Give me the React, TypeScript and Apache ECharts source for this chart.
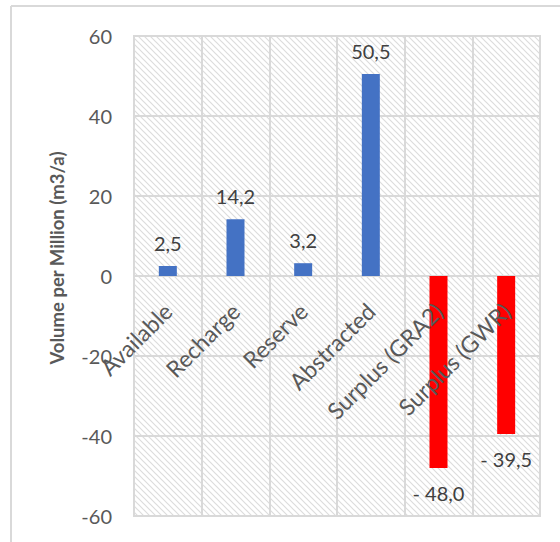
import React, { useEffect, useRef } from "react";
import * as echarts from "echarts";

const categories = [
  "Available",
  "Recharge",
  "Reserve",
  "Abstracted",
  "Surplus (GRA2)",
  "Surplus (GWR)",
];
const volumes = [2.5, 14.2, 3.2, 50.5, -48.0, -39.5];
const yTicks = { min: -60, max: 60, interval: 20 };
const yAxisTitle = "Volume per Million (m3/a)";

const BLUE = "#4472C4";
const RED = "#FF0000";
const GRID = "#d9d9d9";
const TEXT = "#595959";
const FONT = "Lato, 'Open Sans', sans-serif";

// Plot area geometry (pixels)
const PLOT_LEFT = 134;
const PLOT_TOP = 36;
const PLOT_RIGHT = 540;
const PLOT_BOTTOM = 516;
const CHART_W = 560;
const CHART_H = 542;

// Diagonal hatch tile used as the plot-area background
const hatchSvg =
  "<svg xmlns='http://www.w3.org/2000/svg' width='6' height='6'>" +
  "<path d='M-1,-1 L7,7 M-1,5 L1,7 M5,-1 L7,1' stroke='#dcdcdc' stroke-width='1.2' fill='none'/>" +
  "</svg>";
const hatchUrl = "data:image/svg+xml;charset=utf-8," + encodeURIComponent(hatchSvg);

function formatValue(v: number): string {
  const s = Math.abs(v).toFixed(1).replace(".", ",");
  return v < 0 ? "- " + s : s;
}

export default function App() {
  const ref = useRef<HTMLDivElement>(null);

  useEffect(() => {
    if (!ref.current) return;
    const chart = echarts.init(ref.current, undefined, { renderer: "svg" });

    // Category labels sit on the zero line, which lies this far above the plot bottom
    const plotH = PLOT_BOTTOM - PLOT_TOP;
    const zeroFromBottom = (plotH * (0 - yTicks.min)) / (yTicks.max - yTicks.min);

    chart.setOption({
      animation: false,
      backgroundColor: "#ffffff",
      grid: {
        left: PLOT_LEFT,
        right: CHART_W - PLOT_RIGHT,
        top: PLOT_TOP,
        bottom: CHART_H - PLOT_BOTTOM,
        outerBoundsMode: "none",
        containLabel: false,
        show: true,
        borderColor: GRID,
        borderWidth: 2,
        backgroundColor: {
          image: hatchUrl,
          repeat: "repeat",
          imageWidth: 6,
          imageHeight: 6,
        },
      },
      xAxis: {
        type: "category",
        data: categories,
        position: "bottom",
        offset: -zeroFromBottom,
        z: 3,
        axisLine: { show: false, onZero: false },
        axisTick: { show: false },
        splitLine: { show: true, lineStyle: { color: GRID, width: 2 } },
        axisLabel: {
          rotate: 45,
          interval: 0,
          margin: 31,
          fontSize: 23,
          color: TEXT,
          fontFamily: FONT,
        },
      },
      yAxis: {
        type: "value",
        min: yTicks.min,
        max: yTicks.max,
        interval: yTicks.interval,
        axisLine: { show: false },
        axisTick: { show: false },
        splitLine: { show: true, lineStyle: { color: GRID, width: 2 } },
        axisLabel: {
          margin: 22,
          fontSize: 20,
          color: TEXT,
          fontFamily: FONT,
        },
      },
      graphic: [
        {
          type: "line",
          shape: { x1: 11, y1: 6, x2: CHART_W, y2: 6 },
          style: { stroke: GRID, lineWidth: 2 },
          silent: true,
        },
        {
          type: "line",
          shape: { x1: 11, y1: 6, x2: 11, y2: CHART_H },
          style: { stroke: GRID, lineWidth: 2 },
          silent: true,
        },
        {
          type: "text",
          x: 57,
          y: 258,
          rotation: Math.PI / 2,
          style: {
            text: yAxisTitle,
            fill: TEXT,
            font: "bold 18.5px " + FONT,
            align: "center",
            verticalAlign: "middle",
          },
          silent: true,
        },
      ],
      series: [
        {
          type: "bar",
          barWidth: 18,
          data: volumes.map((v) => ({
            value: v,
            itemStyle: { color: v < 0 ? RED : BLUE },
            label: {
              show: true,
              position: v < 0 ? "bottom" : "top",
              distance: v < 0 ? 15 : 13,
            },
          })),
          label: {
            show: true,
            fontSize: 20,
            color: "#404040",
            fontFamily: FONT,
            formatter: (p: any) => formatValue(p.value),
          },
        },
      ],
    });

    return () => chart.dispose();
  }, []);

  return (
    <div
      ref={ref}
      style={{ position: "fixed", left: 0, top: 0, width: CHART_W, height: CHART_H }}
    />
  );
}
